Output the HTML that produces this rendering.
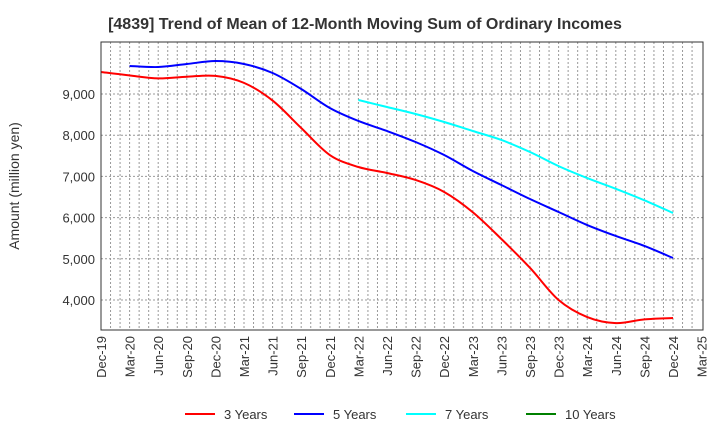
<!DOCTYPE html>
<html><head><meta charset="utf-8"><style>
body{margin:0;background:#fff;font-family:"Liberation Sans",sans-serif}
</style></head><body>
<svg id="c" width="720" height="440" xmlns="http://www.w3.org/2000/svg"></svg>
<script>
const categories=["Dec-19","Mar-20","Jun-20","Sep-20","Dec-20","Mar-21","Jun-21","Sep-21","Dec-21","Mar-22","Jun-22","Sep-22","Dec-22","Mar-23","Jun-23","Sep-23","Dec-23","Mar-24","Jun-24","Sep-24","Dec-24","Mar-25"];
const yTicks=[4000,5000,6000,7000,8000,9000];
const s3=[9534,9450,9380,9420,9440,9270,8840,8175,7519,7228,7083,6913,6622,6130,5480,4780,4000,3587,3440,3530,3563];
const s5=[null,9680,9655,9728,9800,9728,9510,9121,8660,8345,8102,7835,7519,7131,6791,6451,6136,5820,5554,5311,5020];
const s7=[null,null,null,null,null,null,null,null,null,8854,8684,8515,8320,8102,7884,7592,7250,6960,6700,6420,6112];
const s10=[];
const series=[{n:"3 Years",c:"#ff0000",d:s3},{n:"5 Years",c:"#0000ff",d:s5},{n:"7 Years",c:"#00ffff",d:s7},{n:"10 Years",c:"#008000",d:s10}];
const L=101,R=703,T=42,B=330;
const xq=i=>L+i*28.6;
const Y=v=>94+(9000-v)/1000*41.2;
const svg=document.getElementById('c');const NS="http://www.w3.org/2000/svg";
function mk(t,a,p){const e=document.createElementNS(NS,t);for(const k in a)e.setAttribute(k,a[k]);(p||svg).appendChild(e);return e;}
let e=mk('text',{x:365,y:29,'text-anchor':'middle','font-size':16,'font-weight':'bold',fill:'#333'});e.textContent="[4839]  Trend of Mean of 12-Month Moving Sum of Ordinary Incomes";

for(let m=1;m<63;m++){const x=L+m*28.6/3;e=mk('line',{x1:x,x2:x,y1:T,y2:B,stroke:'#999','stroke-dasharray':'2,2','stroke-width':1});}
yTicks.forEach(v=>{const y=Y(v);e=mk('line',{x1:L,x2:R,y1:y,y2:y,stroke:'#999','stroke-dasharray':'2,2'});
e=mk('text',{x:L-6,y:y+5,'text-anchor':'end','font-size':13,fill:'#333'});e.textContent=v.toLocaleString('en-US');});
categories.forEach((c,i)=>{const x=xq(i);e=mk('text',{transform:`translate(${x+5},${B+6}) rotate(-90)`,'text-anchor':'end','font-size':13,fill:'#333'});e.textContent=c;});
e=mk('text',{transform:`translate(19,${(T+B)/2}) rotate(-90)`,'text-anchor':'middle','font-size':14,fill:'#333'});e.textContent="Amount (million yen)";
function path(pts){let d=`M${pts[0][0]},${pts[0][1]}`;for(let i=0;i<pts.length-1;i++){const p0=pts[i-1]||pts[i],p1=pts[i],p2=pts[i+1],p3=pts[i+2]||p2;d+=` C${p1[0]+(p2[0]-p0[0])/6},${p1[1]+(p2[1]-p0[1])/6} ${p2[0]-(p3[0]-p1[0])/6},${p2[1]-(p3[1]-p1[1])/6} ${p2[0]},${p2[1]}`;}return d;}
series.forEach(s=>{const pts=[];s.d.forEach((v,i)=>{if(v!=null)pts.push([xq(i),Y(v)]);});if(pts.length<2)return;
e=mk('path',{d:path(pts),fill:'none',stroke:s.c,'stroke-width':2});});
e=mk('rect',{x:L,y:T,width:R-L,height:B-T,fill:'none',stroke:'#333'});
const lx=[185,294,406,526];
series.forEach((s,i)=>{const g=mk('g',{});
mk('line',{x1:lx[i],x2:lx[i]+30,y1:414,y2:414,stroke:s.c,'stroke-width':2},g);
const t=mk('text',{x:lx[i]+39,y:419,'font-size':13,fill:'#333'},g);t.textContent=s.n;});
</script>
</body></html>
